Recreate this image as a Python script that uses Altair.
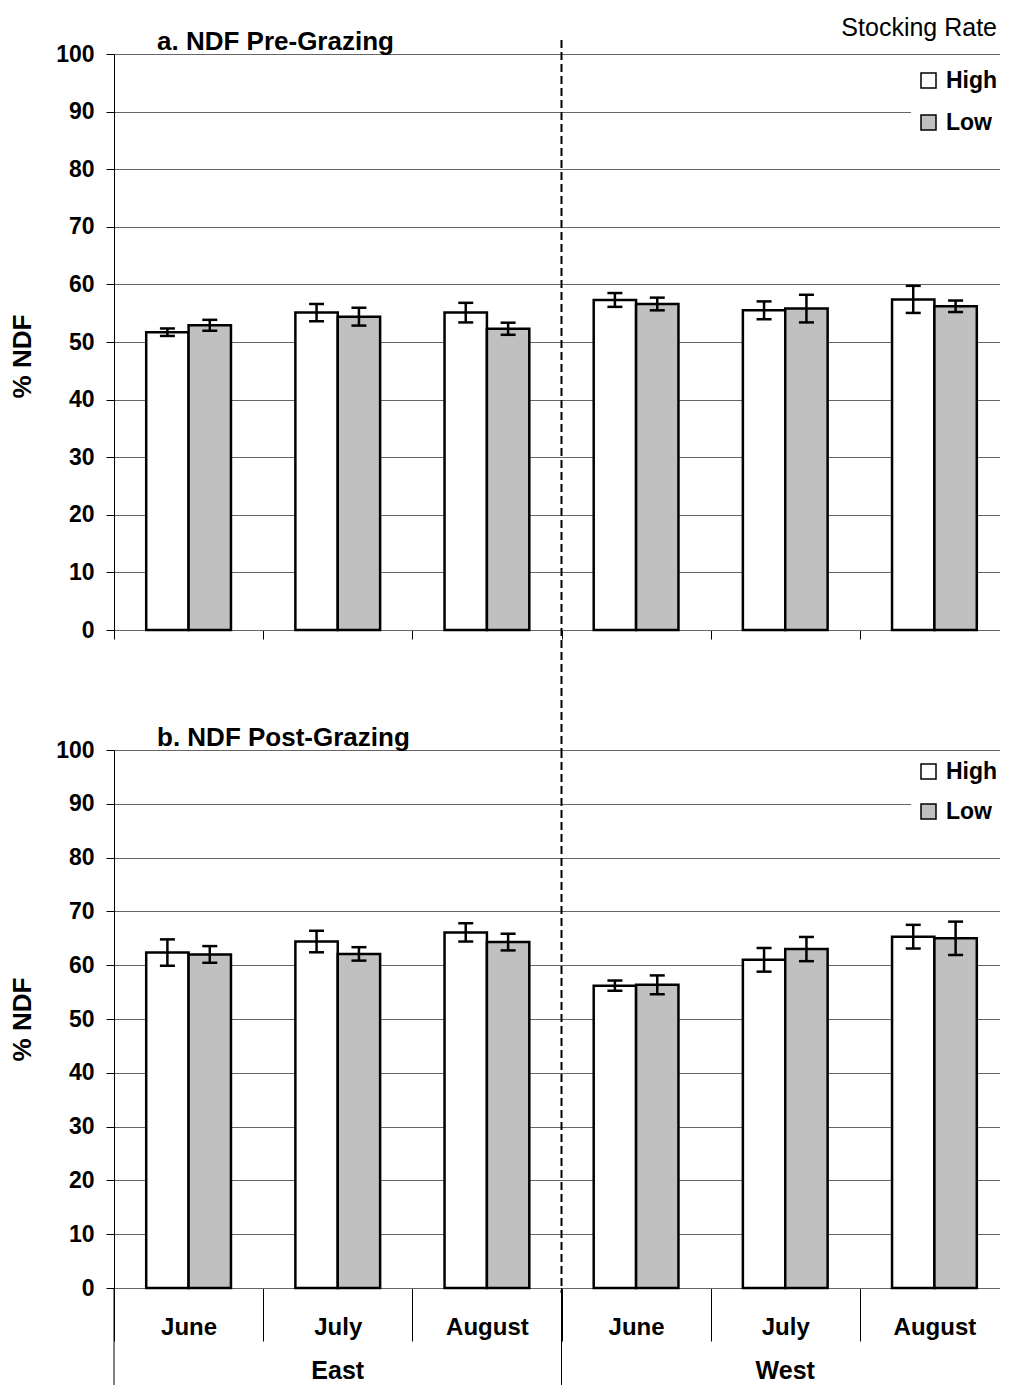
import altair as alt
import pandas as pd

# ---------------- data ----------------
regions = ["East", "East", "East", "West", "West", "West"]
months = ["June", "July", "August", "June", "July", "August"]
rates = ["High", "Low"]

pre_high = [51.7, 55.1, 55.1, 57.3, 55.5, 57.4]
pre_high_err = [0.65, 1.5, 1.7, 1.2, 1.55, 2.35]
pre_low = [52.9, 54.4, 52.3, 56.6, 55.8, 56.2]
pre_low_err = [0.95, 1.55, 1.05, 1.1, 2.4, 1.0]

post_high = [62.35, 64.4, 66.1, 56.2, 61.0, 65.3]
post_high_err = [2.45, 2.0, 1.7, 0.95, 2.2, 2.2]
post_low = [62.0, 62.1, 64.3, 56.35, 63.0, 65.0]
post_low_err = [1.55, 1.25, 1.55, 1.75, 2.25, 3.1]

y_ticks = list(range(0, 101, 10))

groups = [f"{r} {m}" for r, m in zip(regions, months)]

W = 895
H1 = 576
H2 = 538
FONT = "Liberation Sans"


def panel_df(high, high_err, low, low_err):
    rows = []
    for g, h, he, l, le in zip(groups, high, high_err, low, low_err):
        rows.append(dict(group=g, rate="High", value=h, lo=h - he, hi=h + he))
        rows.append(dict(group=g, rate="Low", value=l, lo=l - le, hi=l + le))
    return pd.DataFrame(rows)


xscale = alt.Scale(domain=groups, paddingInner=0, paddingOuter=0)
oscale = alt.Scale(domain=rates, paddingInner=0, paddingOuter=0.76)
yscale = alt.Scale(domain=[0, 100], nice=False, zero=True)
fillscale = alt.Scale(domain=rates, range=["white", "#c0c0c0"])


def make_yaxis(title_y):
    kw = dict(values=y_ticks, grid=True, gridColor="#666666", gridWidth=1,
              domain=True, domainColor="black", domainWidth=1,
              ticks=True, tickColor="black", tickSize=8,
              labelFontSize=23, labelFontWeight="bold", labelColor="black",
              labelPadding=12, titleFontSize=26, titleFontWeight="bold",
              titleColor="black", titlePadding=20)
    if title_y is not None:
        kw["titleY"] = title_y
    return alt.Axis(**kw)


def make_panel(df, title, height, bottom, legend_y, legend_row, title_y):
    yaxis = make_yaxis(title_y)
    if bottom:
        xaxis = alt.Axis(title=None, labels=True, labelExpr="split(datum.label, ' ')[1]",
                         labelAngle=0, labelFontSize=24, labelFontWeight="bold",
                         labelColor="black", labelPadding=-26,
                         ticks=True, tickBand="extent", tickSize=53, tickColor="black",
                         domain=True, domainColor="#666666", grid=False)
    else:
        xaxis = alt.Axis(title=None, labels=False, ticks=True, tickBand="extent",
                         tickSize=9, tickColor="black", domain=True,
                         domainColor="#666666", grid=False)

    X = alt.X("group:N", scale=xscale, axis=xaxis, sort=groups)
    XO = alt.XOffset("rate:N", scale=oscale, sort=rates)

    bars = alt.Chart(df).mark_bar(stroke="black", strokeWidth=2.5).encode(
        x=X, xOffset=XO,
        y=alt.Y("value:Q", scale=yscale, axis=yaxis, title="% NDF"),
        fill=alt.Fill("rate:N", scale=fillscale,
                      legend=alt.Legend(title=None, orient="none", legendX=797,
                                        legendY=legend_y, symbolType="square",
                                        symbolSize=225, symbolStrokeColor="black",
                                        symbolStrokeWidth=1.5, labelFontSize=23,
                                        labelFontWeight="bold", labelColor="black",
                                        labelOffset=6, rowPadding=legend_row,
                                        fillColor="white", padding=6)),
    )
    err = alt.Chart(df).mark_rule(color="black", strokeWidth=2.5).encode(
        x=X, xOffset=XO,
        y=alt.Y("lo:Q", scale=yscale, axis=yaxis, title="% NDF"),
        y2="hi:Q",
    )
    cap_lo = alt.Chart(df).mark_tick(color="black", thickness=2.5, size=15, opacity=1).encode(
        x=X, xOffset=XO,
        y=alt.Y("lo:Q", scale=yscale, axis=yaxis, title="% NDF"),
    )
    cap_hi = alt.Chart(df).mark_tick(color="black", thickness=2.5, size=15, opacity=1).encode(
        x=X, xOffset=XO,
        y=alt.Y("hi:Q", scale=yscale, axis=yaxis, title="% NDF"),
    )
    divider = alt.Chart(pd.DataFrame({"group": ["West June"]})).mark_rule(
        color="black", strokeWidth=2, strokeDash=[8, 4]
    ).encode(
        x=alt.X("group:N", scale=xscale, axis=xaxis, sort=groups, bandPosition=0),
        y=alt.value(0 if bottom else -14),
        y2=alt.value(height + 5 if bottom else height + 120),
    )
    ttl = alt.Chart(pd.DataFrame({"t": [title]})).mark_text(
        fontSize=26, fontWeight="bold", color="black", align="left",
        baseline="alphabetic"
    ).encode(x=alt.value(43), y=alt.value(-4), text="t:N")
    layers = [bars, err, cap_lo, cap_hi, divider, ttl]
    if bottom:
        region_df = pd.DataFrame({"group": ["East June", "West June"]})
        reg_rules = alt.Chart(region_df).mark_rule(color="black", strokeWidth=1).encode(
            x=alt.X("group:N", scale=xscale, axis=xaxis, sort=groups, bandPosition=0),
            y=alt.value(height),
            y2=alt.value(height + 97),
        )
        label_df = pd.DataFrame({"group": ["East July", "West July"],
                                 "label": ["East", "West"]})
        reg_text = alt.Chart(label_df).mark_text(
            fontSize=25, fontWeight="bold", color="black", baseline="middle"
        ).encode(
            x=alt.X("group:N", scale=xscale, axis=xaxis, sort=groups),
            y=alt.value(height + 83),
            text="label:N",
        )
        layers += [reg_rules, reg_text]
    else:
        sr = alt.Chart(pd.DataFrame({"t": ["Stocking Rate"]})).mark_text(
            fontSize=25, color="black", align="right", baseline="middle"
        ).encode(x=alt.value(W - 12), y=alt.value(-26), text="t:N")
        layers.append(sr)

    return alt.layer(*layers).properties(width=W, height=height)


top = make_panel(panel_df(pre_high, pre_high_err, pre_low, pre_low_err),
                 "a. NDF Pre-Grazing", H1, False, 9, 18, 302)
bot = make_panel(panel_df(post_high, post_high_err, post_low, post_low_err),
                 "b. NDF Post-Grazing", H2, True, 4, 16, None)

chart = alt.vconcat(top, bot, spacing=120, bounds="flush").resolve_scale(
    fill="independent"
).resolve_legend(fill="independent").properties(
    padding={"left": 1, "top": 8, "right": -10, "bottom": 0}
).configure(font=FONT).configure_view(stroke=None)

chart.save("out.html", embed_options={"renderer": "svg", "actions": False})
